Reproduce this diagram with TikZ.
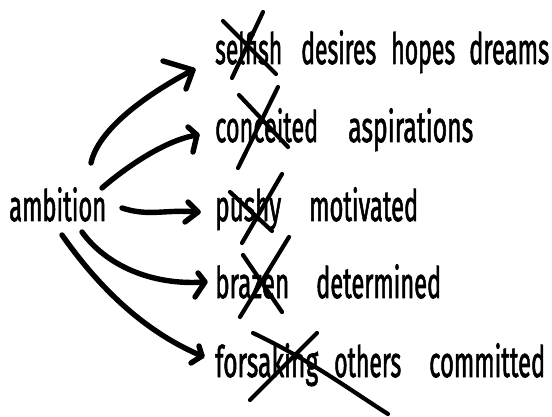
\documentclass[tikz,border=0pt]{standalone}
\usepackage{fontspec}
\setmainfont{Fira Sans}[FakeBold=2]
\usepackage{graphicx}
\newcommand\fw[2]{\resizebox{#1pt}{1.08\height}{#2}}
\begin{document}
\begin{tikzpicture}[x=1pt,y=-1pt,
  wrd/.style={anchor=base west, inner sep=0pt, font=\fontsize{40}{44}\selectfont},
  arr/.style={line width=5.4pt, line cap=round, line join=round},
  xout/.style={line width=4.2pt, line cap=round}]
\useasboundingbox[fill=white] (0,0) rectangle (552,417);
% words
\node[wrd] (amb) at (9,221) {\fw{97}{ambition}};
\node[wrd] (w11) at (215,64) {\fw{67}{selfish}};
\node[wrd] (w12) at (301,64) {\fw{75}{desires}};
\node[wrd] (w13) at (391,64) {\fw{64}{hopes}};
\node[wrd] (w14) at (469,64) {\fw{80}{dreams}};
\node[wrd] (w21) at (215,142) {\fw{103}{conceited}};
\node[wrd] (w22) at (348,142) {\fw{125}{aspirations}};
\node[wrd] (w31) at (215,221) {\fw{66}{pushy}};
\node[wrd] (w32) at (309,221) {\fw{109}{motivated}};
\node[wrd] (w41) at (215,298) {\fw{74}{brazen}};
\node[wrd] (w42) at (316,298) {\fw{125}{determined}};
\node[wrd] (w51) at (215,377) {\fw{103}{forsaking}};
\node[wrd] (w52) at (334,377) {\fw{67}{others}};
\node[wrd] (w53) at (429,377) {\fw{116}{committed}};
% connector coordinates
\coordinate (s1) at (91,163);  \coordinate (t1) at (193,70);
\coordinate (s2) at (102,188); \coordinate (t2) at (197,135);
\coordinate (s3) at (122,208); \coordinate (t3) at (198,212);
\coordinate (s4) at (82,232);  \coordinate (t4) at (205,282);
\coordinate (s5) at (62,235);  \coordinate (t5) at (202,356);
\coordinate (a1) at (163,61);  \coordinate (b1) at (186,89);
\coordinate (a2) at (188,127); \coordinate (b2) at (193,152);
\coordinate (a3) at (188,202); \coordinate (b3) at (185,222);
\coordinate (a4) at (198,273); \coordinate (b4) at (195,297);
\coordinate (a5) at (199,346); \coordinate (b5) at (191,363);
% connectors
\draw[arr] (s1) .. controls (98,130) and (145,95) .. (t1);
\draw[arr] (a1) -- (t1) -- (b1);
\draw[arr] (s2) .. controls (125,168) and (165,140) .. (t2);
\draw[arr] (a2) -- (t2) -- (b2);
\draw[arr] (s3) .. controls (150,217) and (165,209) .. (t3);
\draw[arr] (a3) -- (t3) -- (b3);
\draw[arr] (s4) .. controls (105,264) and (150,286) .. (t4);
\draw[arr] (a4) -- (t4) -- (b4);
\draw[arr] (s5) .. controls (95,282) and (140,330) .. (t5);
\draw[arr] (a5) -- (t5) -- (b5);
% cross-outs
\draw[xout] (223,21) -- (276,74);
\draw[xout] (263,12) -- (232,78);
\draw[xout] (239,95) -- (288,147);
\draw[xout] (278,87) -- (238,168);
\draw[xout] (230,192) -- (272,231);
\draw[xout] (282,174) -- (242,243);
\draw[xout] (243,255) -- (282,312);
\draw[xout] (289,237) -- (240,317);
\draw[xout] (253,333) .. controls (310,360) and (350,390) .. (388,414);
\draw[xout] (317,333) -- (250,400);
\end{tikzpicture}
\end{document}
